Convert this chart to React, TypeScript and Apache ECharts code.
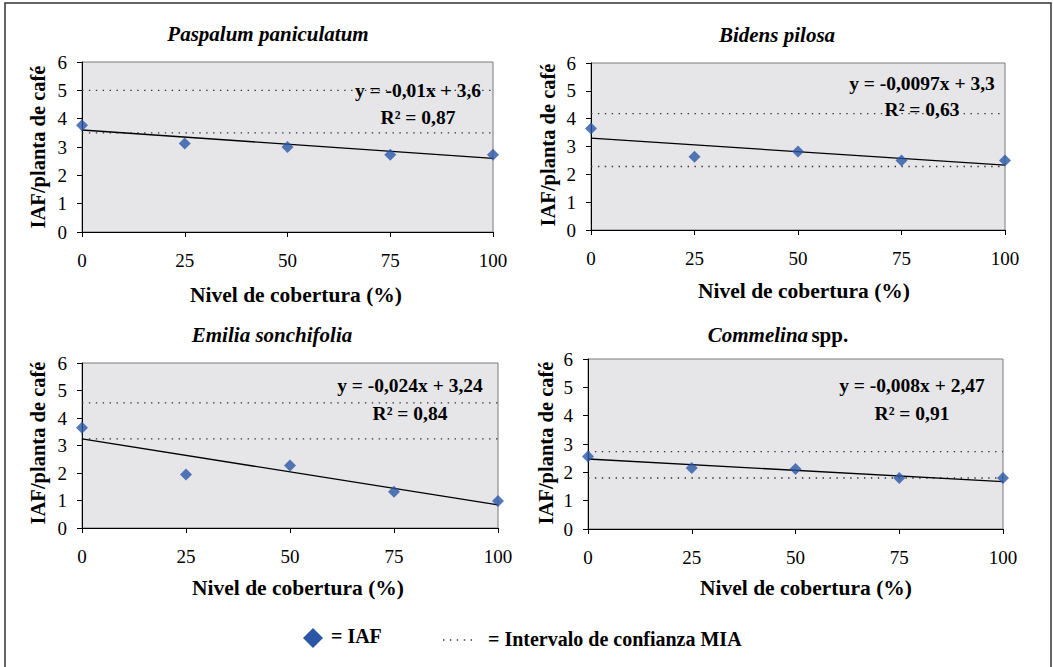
import React, { useEffect, useRef } from "react";
import * as echarts from "echarts";

// ---------- DATA ----------
const coverage = [0, 25, 50, 75, 100];
const xTickLabels = ["0", "25", "50", "75", "100"];
const yTickLabels = ["0", "1", "2", "3", "4", "5", "6"];

const iafPaspalum = [3.77, 3.12, 3.0, 2.73, 2.73];
const iafBidens = [3.65, 2.63, 2.82, 2.5, 2.5];
const iafEmilia = [3.65, 1.95, 2.27, 1.32, 0.98];
const iafCommelina = [2.56, 2.15, 2.12, 1.8, 1.8];

const slopes = [-0.01, -0.0097, -0.024, -0.008];
const intercepts = [3.6, 3.3, 3.24, 2.47];
const equations = ["y = -0,01x + 3,6", "y = -0,0097x + 3,3", "y = -0,024x + 3,24", "y = -0,008x + 2,47"];
const r2Texts = ["R² = 0,87", "R² = 0,63", "R² = 0,84", "R² = 0,91"];

const ciLower = [3.5, 2.28, 3.24, 1.8];
const ciUpper = [5.0, 4.18, 4.55, 2.73];

const xAxisTitle = "Nivel de cobertura (%)";
const yAxisTitle = "IAF/planta de café";
const legendIAF = "= IAF";
const legendCI = "= Intervalo de confianza MIA";

// ---------- LAYOUT ----------
const FONT = "'Liberation Serif', 'Times New Roman', serif";
const grids = [
  { left: 82, top: 62, width: 411, height: 170 },
  { left: 591, top: 63, width: 414, height: 167 },
  { left: 82, top: 363, width: 416, height: 165 },
  { left: 588, top: 359, width: 415, height: 170 },
];
const titlePos = [
  [268, 34],
  [777, 35],
  [272, 335],
  [778, 335],
];
const eqPos = [
  [418, 90, 117],
  [922, 83, 109],
  [410, 385, 413],
  [912, 385, 413],
];
const xNamePos = [
  [296, 295],
  [804, 291],
  [298, 588],
  [806, 588],
];
const yNamePos = [
  [38, 147],
  [548, 145],
  [38, 443],
  [546, 443],
];

const DIAMOND = "#2B56A6";
const PLOT_BG = "#E6E6E9";

export default function App() {
  const ref = useRef<HTMLDivElement>(null);

  useEffect(() => {
    if (!ref.current) return;
    const chart = echarts.init(ref.current, undefined, { renderer: "svg" });
    const allIaf = [iafPaspalum, iafBidens, iafEmilia, iafCommelina];

    const gridOpts = grids.map((g) => ({
      ...g,
      show: true,
      backgroundColor: PLOT_BG,
      borderColor: "#7a7a7a",
      borderWidth: 1,
    }));

    const xAxes = grids.map((_, i) => ({
      type: "value",
      gridIndex: i,
      min: 0,
      max: 100,
      interval: 25,
      axisLine: { show: true, onZero: false, lineStyle: { color: "#000", width: 1 } },
      axisTick: { show: true, length: 5, lineStyle: { color: "#000" } },
      axisLabel: {
        margin: 19,
        color: "#000",
        fontFamily: FONT,
        fontSize: 19,
        formatter: (v: number) => xTickLabels[coverage.indexOf(v)] ?? String(v),
      },
      splitLine: { show: false },
    }));

    const yAxes = grids.map((_, i) => ({
      type: "value",
      gridIndex: i,
      min: 0,
      max: 6,
      interval: 1,
      axisLine: { show: true, onZero: false, lineStyle: { color: "#000", width: 1 } },
      axisTick: { show: true, length: 5, lineStyle: { color: "#000" } },
      axisLabel: {
        margin: 15,
        color: "#000",
        fontFamily: FONT,
        fontSize: 19,
        formatter: (v: number) => yTickLabels[v] ?? String(v),
      },
      splitLine: { show: false },
    }));

    const series: any[] = [];
    grids.forEach((_, i) => {
      [ciLower[i], ciUpper[i]].forEach((v) => {
        series.push({
          type: "line",
          xAxisIndex: i,
          yAxisIndex: i,
          data: [
            [coverage[0], v],
            [coverage[coverage.length - 1], v],
          ],
          showSymbol: false,
          symbol: "none",
          silent: true,
          z: 2,
          lineStyle: { color: "#333", width: 1.4, type: [1.4, 5.5] },
        });
      });
      const x0 = coverage[0];
      const x1 = coverage[coverage.length - 1];
      series.push({
        type: "line",
        xAxisIndex: i,
        yAxisIndex: i,
        data: [
          [x0, intercepts[i] + slopes[i] * x0],
          [x1, intercepts[i] + slopes[i] * x1],
        ],
        showSymbol: false,
        symbol: "none",
        silent: true,
        z: 3,
        lineStyle: { color: "#000", width: 1.3 },
      });
      series.push({
        type: "scatter",
        xAxisIndex: i,
        yAxisIndex: i,
        data: coverage.map((x, j) => [x, allIaf[i][j]]),
        symbol: "diamond",
        symbolSize: 12,
        clip: false,
        z: 4,
        itemStyle: { color: DIAMOND },
      });
    });

    const graphics: any[] = [];
    graphics.push({
      type: "rect",
      shape: { x: 5, y: 3, width: 1046, height: 720 },
      style: { fill: "none", stroke: "#333", lineWidth: 1.5 },
      z: 0,
    });
    grids.forEach((_, i) => {
      if (i === 3) {
        graphics.push({
          type: "text",
          x: titlePos[i][0],
          y: titlePos[i][1],
          style: {
            text: "{i|Commelina} {n|spp.}",
            align: "center",
            verticalAlign: "middle",
            rich: {
              i: { fontFamily: FONT, fontSize: 21, fontWeight: "bold", fontStyle: "italic", fill: "#000" },
              n: { fontFamily: FONT, fontSize: 21, fontWeight: "bold", fontStyle: "normal", fill: "#000" },
            },
          },
        });
      } else {
        graphics.push({
          type: "text",
          x: titlePos[i][0],
          y: titlePos[i][1],
          style: {
            text: ["Paspalum paniculatum", "Bidens pilosa", "Emilia sonchifolia"][i],
            align: "center",
            verticalAlign: "middle",
            fontFamily: FONT,
            fontSize: 21,
            fontWeight: "bold",
            fontStyle: "italic",
            fill: "#000",
          },
        });
      }
      graphics.push({
        type: "text",
        x: eqPos[i][0],
        y: eqPos[i][1],
        z: 10,
        style: {
          text: equations[i],
          align: "center",
          verticalAlign: "middle",
          fontFamily: FONT,
          fontSize: 19.5,
          fontWeight: "bold",
          fill: "#000",
        },
      });
      graphics.push({
        type: "text",
        x: eqPos[i][0],
        y: eqPos[i][2],
        z: 10,
        style: {
          text: r2Texts[i],
          align: "center",
          verticalAlign: "middle",
          fontFamily: FONT,
          fontSize: 19.5,
          fontWeight: "bold",
          fill: "#000",
        },
      });
      graphics.push({
        type: "text",
        x: xNamePos[i][0],
        y: xNamePos[i][1],
        style: {
          text: xAxisTitle,
          align: "center",
          verticalAlign: "middle",
          fontFamily: FONT,
          fontSize: 21.5,
          fontWeight: "bold",
          fill: "#000",
        },
      });
      graphics.push({
        type: "text",
        x: yNamePos[i][0],
        y: yNamePos[i][1],
        rotation: Math.PI / 2,
        style: {
          text: yAxisTitle,
          align: "center",
          verticalAlign: "middle",
          fontFamily: FONT,
          fontSize: 20.5,
          fontWeight: "bold",
          fill: "#000",
        },
      });
    });
    graphics.push({
      type: "polygon",
      shape: {
        points: [
          [313, 628],
          [323, 638],
          [313, 648],
          [303, 638],
        ],
      },
      style: { fill: DIAMOND },
    });
    graphics.push({
      type: "text",
      x: 331,
      y: 636,
      style: {
        text: legendIAF,
        align: "left",
        verticalAlign: "middle",
        fontFamily: FONT,
        fontSize: 20,
        fontWeight: "bold",
        fill: "#000",
      },
    });
    graphics.push({
      type: "line",
      shape: { x1: 443, y1: 640, x2: 475, y2: 640 },
      style: { stroke: "#333", lineWidth: 1.4, lineDash: [1.4, 5.5] },
    });
    graphics.push({
      type: "text",
      x: 488,
      y: 639,
      style: {
        text: legendCI,
        align: "left",
        verticalAlign: "middle",
        fontFamily: FONT,
        fontSize: 20,
        fontWeight: "bold",
        fill: "#000",
      },
    });

    chart.setOption({
      animation: false,
      backgroundColor: "#fff",
      grid: gridOpts,
      xAxis: xAxes,
      yAxis: yAxes,
      series,
      graphic: graphics,
    });
    return () => chart.dispose();
  }, []);

  return (
    <div
      ref={ref}
      style={{ position: "absolute", left: 0, top: 0, width: 1053, height: 667 }}
    />
  );
}
